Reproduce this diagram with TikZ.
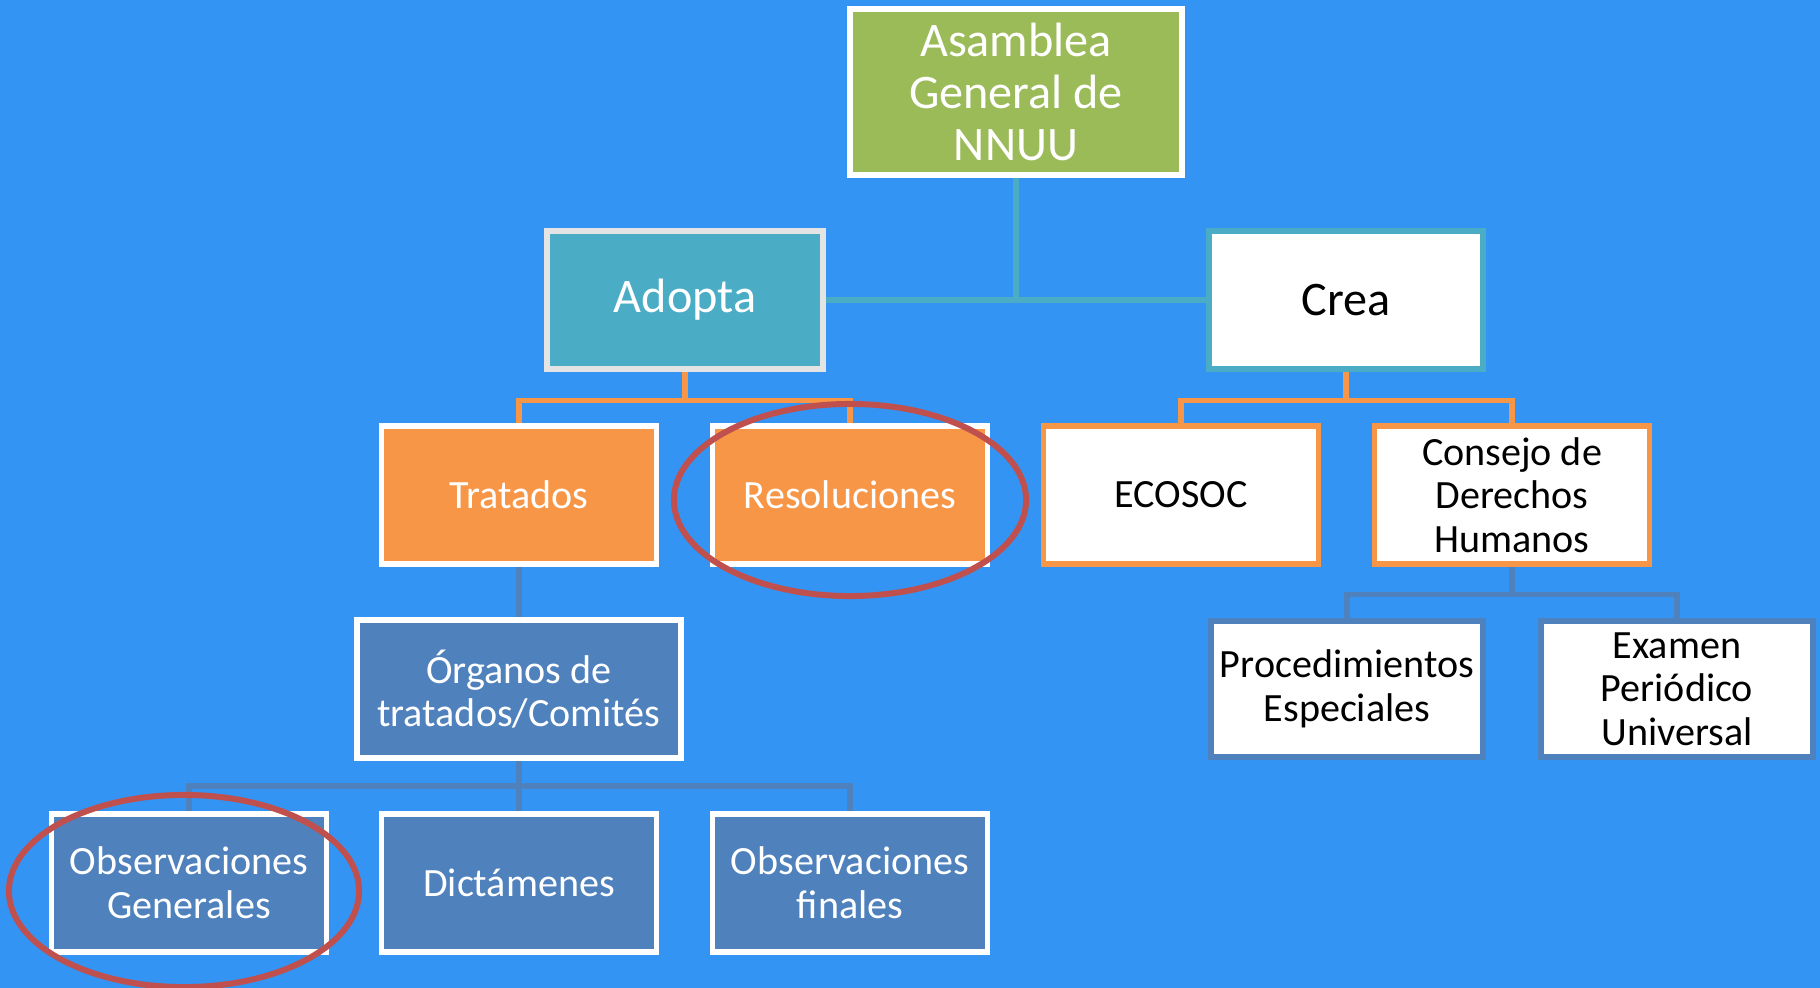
\documentclass[tikz,border=0pt]{standalone}
\usepackage{fontspec}
\setmainfont{Carlito}
\usetikzlibrary{calc}
\definecolor{sky}{HTML}{3394F4}
\definecolor{olive}{HTML}{9BBB59}
\definecolor{aqua}{HTML}{4BACC6}
\definecolor{peach}{HTML}{F79646}
\definecolor{steel}{HTML}{4F81BD}
\definecolor{brick}{HTML}{C0504D}
\definecolor{pale}{HTML}{E4E4E4}
\begin{document}
\begin{tikzpicture}[x=0.01cm,y=-0.01cm]
  \tikzstyle{box}=[rectangle,draw,line width=1.5pt,minimum width=2.75cm,minimum height=1.38cm,inner sep=2pt,align=center,font=\fontsize{11.4}{12.4}\selectfont]
  \tikzstyle{bigbox}=[box,font=\fontsize{13.7}{14.8}\selectfont]
  \tikzstyle{link}=[line width=1.6pt]
  \tikzstyle{ring}=[draw=brick,line width=1.7pt]
  % background
  \fill[sky] (0,0) rectangle (1820,988);
  \useasboundingbox (0,0) rectangle (1820,988);
  % top
  \node[bigbox,fill=olive,draw=white,text=white,minimum width=3.32cm,minimum height=1.66cm] (AG) at (1016,92) {Asamblea\\General de\\NNUU};
  \node[bigbox,fill=aqua,draw=pale,text=white,minimum width=2.76cm] (AD) at (685,300) {Adopta};
  \node[bigbox,fill=white,draw=aqua,text=black,minimum width=2.74cm] (CR) at (1346,300) {Crea};
  % second row
  \node[box,fill=peach,draw=white,text=white] (TR) at (519,495) {Tratados};
  \node[box,fill=peach,draw=white,text=white] (RE) at (850,495) {Resoluciones};
  \node[box,fill=white,draw=peach,text=black] (EC) at (1181,495) {ECOSOC};
  \node[box,fill=white,draw=peach,text=black] (CD) at (1512,495) {Consejo de\\Derechos\\Humanos};
  % third row
  \node[box,fill=steel,draw=white,text=white,minimum width=3.24cm] (OT) at (519,689) {Órganos de\\tratados/Comités};
  \node[box,fill=white,draw=steel,text=black,minimum width=2.72cm,minimum height=1.36cm] (PE) at (1347,689) {Procedimientos\\Especiales};
  \node[box,fill=white,draw=steel,text=black,minimum width=2.72cm,minimum height=1.36cm] (EPU) at (1677,689) {Examen\\Periódico\\Universal};
  % bottom row
  \node[box,fill=steel,draw=white,text=white] (OG) at (189,883) {Observaciones\\Generales};
  \node[box,fill=steel,draw=white,text=white] (DI) at (519,883) {Dictámenes};
  \node[box,fill=steel,draw=white,text=white] (OF) at (850,883) {Observaciones\\finales};
  % links
  \draw[link,aqua] (AG.south) -- (AG.south |- AD.east);
  \draw[link,aqua] (AD.east) -- (CR.west);
  \draw[link,peach] (AD.south) -- ++(0,29) coordinate (ADbus);
  \draw[link,peach] (TR.north) |- (ADbus) -| (RE.north);
  \draw[link,peach] (CR.south) -- ++(0,29) coordinate (CRbus);
  \draw[link,peach] (EC.north) |- (CRbus) -| (CD.north);
  \draw[link,steel] (TR.south) -- (OT.north);
  \draw[link,steel] (CD.south) -- ++(0,28) coordinate (CDbus);
  \draw[link,steel] (PE.north) |- (CDbus) -| (EPU.north);
  \draw[link,steel] (OT.south) -- (DI.north);
  \draw[link,steel] (OG.north) |- ($(OT.south)!0.5!(DI.north)$) -| (OF.north);
  % highlights
  \draw[ring] (850,500) ellipse [x radius=1.76cm,y radius=0.96cm];
  \draw[ring] (184,891) ellipse [x radius=1.75cm,y radius=0.96cm];
\end{tikzpicture}
\end{document}
